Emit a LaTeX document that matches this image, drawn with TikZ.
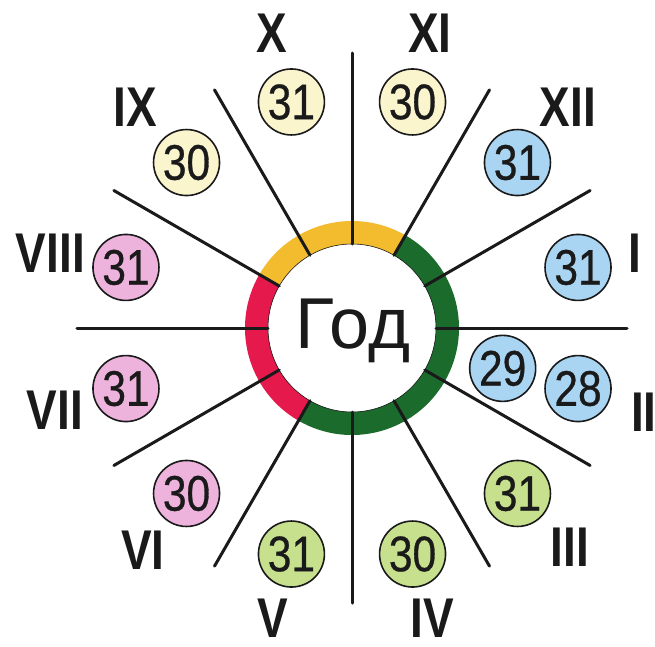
\documentclass[tikz,border=0pt]{standalone}
\usepackage{fontspec}
\setmainfont{Liberation Sans}
\newfontfamily\numfont[FakeStretch=0.85,FakeBold=0.6]{Liberation Sans}
\newfontfamily\romfont[FakeStretch=0.82]{Liberation Sans Bold}
\definecolor{ringyellow}{HTML}{F3BC2F}
\definecolor{ringgreen}{HTML}{1B6B2C}
\definecolor{ringred}{HTML}{E5194B}
\definecolor{fillyellow}{HTML}{FAF5CC}
\definecolor{fillblue}{HTML}{A9D5F2}
\definecolor{fillpink}{HTML}{EEB3DD}
\definecolor{fillgreen}{HTML}{C7E08E}
\definecolor{ink}{HTML}{1A1A1A}
\begin{document}
\begin{tikzpicture}[x=1pt,y=1pt,
  ring/.style={line width=23pt},
  spoke/.style={draw=ink, line width=3pt, line cap=round},
  day/.style={circle, draw=ink, line width=1.6pt, minimum size=66pt, inner sep=0pt,
    text=ink, font=\numfont\fontsize{50}{50}\selectfont},
  rom/.style={text=ink, font=\romfont\fontsize{56}{56}\selectfont, inner sep=0pt},
]
\useasboundingbox[fill=white] (-352,-318) rectangle (303,328);
\coordinate (c) at (0,0);
% ring
\draw[ring, draw=ringyellow] (c) ++(150:95.5) arc (150:60:95.5);
\draw[ring, draw=ringgreen] (c) ++(60:95.5) arc (60:-120:95.5);
\draw[ring, draw=ringred] (c) ++(240:95.5) arc (240:150:95.5);
\draw[ink, line width=0.6pt] (c) circle (84);
% spokes
\foreach \a in {0,30,...,330}
  \draw[spoke] (c) ++(\a:84) -- ++(\a:191);
% centre text
\node[text=ink, font=\fontsize{72}{72}\selectfont, inner sep=0pt] (year) at (1,-3) {Год};
% day circles
\node[day, fill=fillyellow] (d9)  at (135:234) {30};
\node[day, fill=fillyellow] (d10) at (105:234) {31};
\node[day, fill=fillyellow] (d11) at (75:234) {30};
\node[day, fill=fillblue]   (d12) at (45:234) {31};
\node[day, fill=fillblue]   (d1)  at (15:234) {31};
\node[day, fill=fillblue]   (d2a) at (-15:156) {29};
\node[day, fill=fillblue]   (d2b) at (-15:234) {28};
\node[day, fill=fillgreen]  (d3)  at (-45:234) {31};
\node[day, fill=fillgreen]  (d4)  at (-75:234) {30};
\node[day, fill=fillgreen]  (d5)  at (-105:234) {31};
\node[day, fill=fillpink]   (d6)  at (-135:234) {30};
\node[day, fill=fillpink]   (d7)  at (-165:234) {31};
\node[day, fill=fillpink]   (d8)  at (165:234) {31};
% month labels
\node[rom] (m10) at (-80,295) {X};
\node[rom] (m9)  at (-217,221) {IX};
\node[rom, anchor=east] (m8) at (-267,75) {VIII};
\node[rom] (m11) at (78,295) {XI};
\node[rom] (m12) at (216,221) {XII};
\node[rom, anchor=west] (m1) at (276,75) {I};
\node[rom, anchor=west] (m2) at (279,-84) {II};
\node[rom] (m3) at (218,-219) {III};
\node[rom] (m4) at (80,-290) {IV};
\node[rom] (m5) at (-79,-290) {V};
\node[rom] (m6) at (-209,-222) {VI};
\node[rom, anchor=east] (m7) at (-269,-82) {VII};
\end{tikzpicture}
\end{document}
